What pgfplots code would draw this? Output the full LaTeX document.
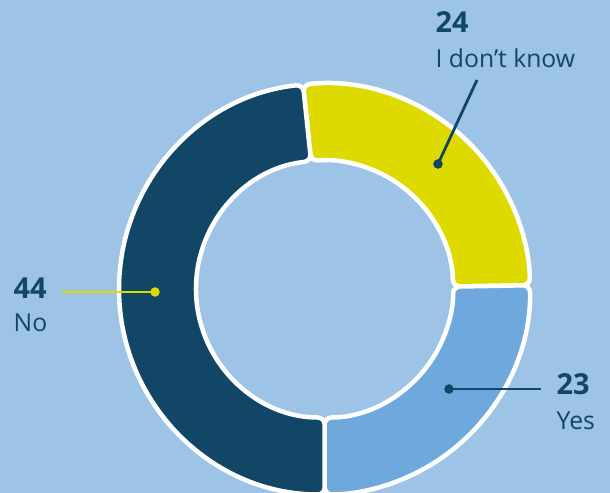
\documentclass[border=0pt]{standalone}
\usepackage{pgfplots}
\pgfplotsset{compat=1.18}
\usepackage{pgfplotstable}
\usetikzlibrary{calc}
\usepackage{fontspec}
\setmainfont{Open Sans}

\definecolor{bgblue}{RGB}{157,195,230}
\definecolor{navy}{RGB}{17,70,102}
\definecolor{midblue}{RGB}{111,168,220}
\definecolor{ylw}{RGB}{222,218,0}

% share of each answer
\pgfplotstableread{
answer value
IDontKnow 24
Yes 23
No 44
}\donutdata

\pgfplotstablegetelem{0}{value}\of\donutdata \let\vIdk\pgfplotsretval
\pgfplotstablegetelem{1}{value}\of\donutdata \let\vYes\pgfplotsretval
\pgfplotstablegetelem{2}{value}\of\donutdata \let\vNo\pgfplotsretval

% angles, clockwise from the top boundary
\pgfmathsetmacro{\total}{\vIdk+\vYes+\vNo}
\pgfmathsetmacro{\aA}{96}
\pgfmathsetmacro{\aB}{\aA-360*\vIdk/\total}
\pgfmathsetmacro{\aC}{\aB-360*\vYes/\total}
\pgfmathsetmacro{\aD}{\aC-360*\vNo/\total}

\newcommand{\seg}[3]{%
  \filldraw[fill=#1, draw=white, line width=4.5bp, rounded corners=7bp]
    ($(axis cs:324.5,204)+(#2:205.5bp)$) arc[start angle=#2, end angle=#3, radius=205.5bp]
    -- ($(axis cs:324.5,204)+(#3:128.5bp)$) arc[start angle=#3, end angle=#2, radius=128.5bp]
    -- cycle;}

\begin{document}
\begin{tikzpicture}
\useasboundingbox (0,0) rectangle (610bp,493bp);
\clip (0,0) rectangle (610bp,493bp);
\fill[bgblue] (0,0) rectangle (610bp,493bp);
\begin{axis}[
    at={(0,0)}, anchor=south west,
    scale only axis,
    width=610bp, height=493bp,
    xmin=0, xmax=610, ymin=0, ymax=493,
    hide axis,
    clip=false,
]
\seg{ylw}{\aA}{\aB}
\seg{midblue}{\aB}{\aC}
\seg{navy}{\aC}{\aD}

% leader lines
\addplot[color=ylw, line width=2.8bp] coordinates {(62,201) (155,201)};
\addplot[color=ylw, only marks, mark=*, mark size=4.5bp] coordinates {(155,201)};
\addplot[color=navy, line width=2.8bp] coordinates {(449,104) (541,104)};
\addplot[color=navy, only marks, mark=*, mark size=4.5bp] coordinates {(449,104)};
\addplot[color=navy, line width=2.8bp] coordinates {(438,329) (477,413)};
\addplot[color=navy, only marks, mark=*, mark size=4.5bp] coordinates {(438,329)};

% labels
\node[anchor=base west, inner sep=0, text=navy, font=\bfseries\fontsize{29}{31}\selectfont] at (axis cs:435.5,460) {24};
\node[anchor=base west, inner sep=0, text=navy, font=\fontsize{24.8}{26}\selectfont] at (axis cs:435.5,425) {I don’t know};
\node[anchor=base west, inner sep=0, text=navy, font=\bfseries\fontsize{29}{31}\selectfont] at (axis cs:13.5,194) {44};
\node[anchor=base west, inner sep=0, text=navy, font=\fontsize{24.8}{26}\selectfont] at (axis cs:13.5,161) {No};
\node[anchor=base west, inner sep=0, text=navy, font=\bfseries\fontsize{29}{31}\selectfont] at (axis cs:556.5,98) {23};
\node[anchor=base west, inner sep=0, text=navy, font=\fontsize{24.8}{26}\selectfont] at (axis cs:556.5,63) {Yes};
\end{axis}
\end{tikzpicture}
\end{document}
